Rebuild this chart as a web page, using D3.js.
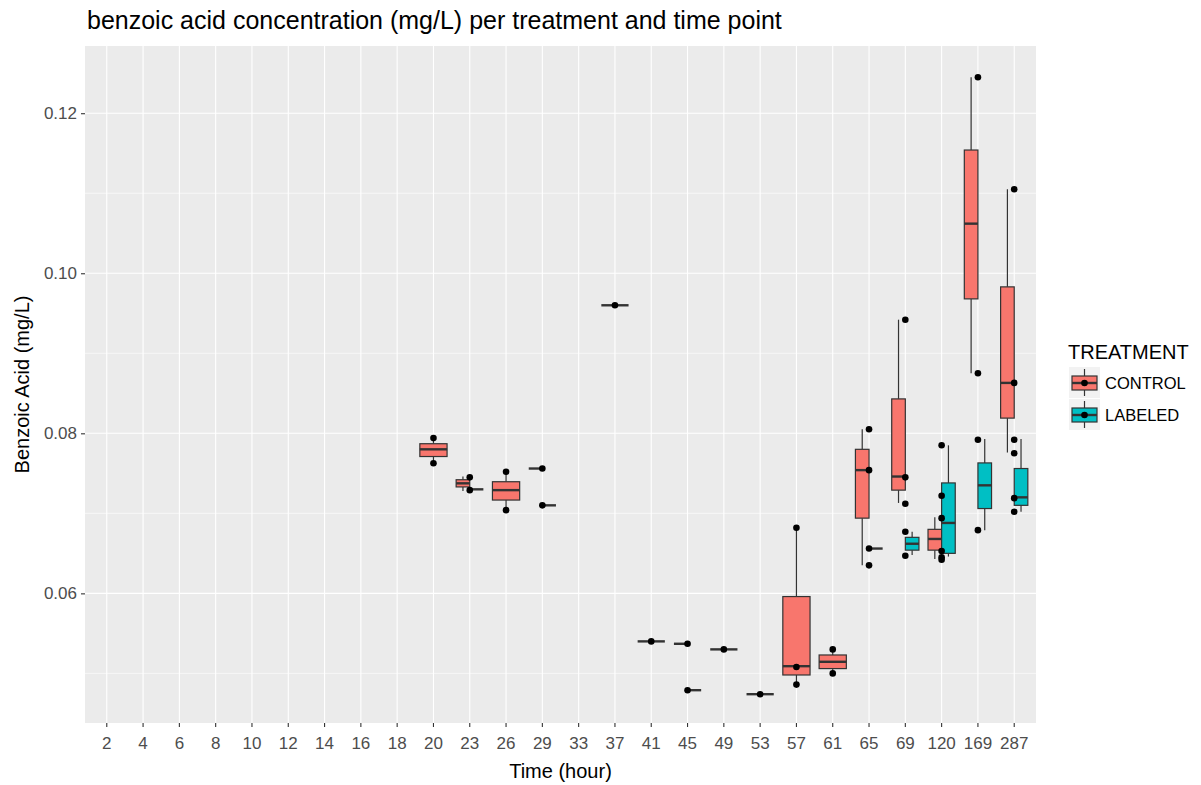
<!DOCTYPE html>
<html>
<head>
<meta charset="utf-8">
<script src="https://cdn.jsdelivr.net/npm/d3@7"></script>
<style>
body { margin: 0; background: #fff; }
text { font-family: "Liberation Sans", Arial, sans-serif; }
</style>
</head>
<body>
<div id="chart"></div>
<script>
// Categories on the x axis (hours)
var times = ['2', '4', '6', '8', '10', '12', '14', '16', '18', '20', '23', '26', '29', '33',
	'37', '41', '45', '49', '53', '57', '61', '65', '69', '120', '169', '287'];
var treatments = ['CONTROL', 'LABELED'];
var treatmentColors = ['#F8766D', '#00BFC4'];
var yTicks = [0.06, 0.08, 0.10, 0.12];
var yMinorTicks = [0.05, 0.07, 0.09, 0.11];
var yDomain = [0.0438, 0.1284];

// Box summaries: time, lower whisker, q1, median, q3, upper whisker
var controlBoxes = [
	['20', 0.07625, 0.0771, 0.0780, 0.0787, 0.0794],
	['23', 0.0728, 0.0733, 0.07375, 0.0742, 0.0746],
	['26', 0.0704, 0.07166, 0.0729, 0.07395, 0.0752],
	['29', 0.0756, 0.0756, 0.0756, 0.0756, 0.0756],
	['37', 0.0960, 0.0960, 0.0960, 0.0960, 0.0960],
	['41', 0.0540, 0.0540, 0.0540, 0.0540, 0.0540],
	['45', 0.0537, 0.0537, 0.0537, 0.0537, 0.0537],
	['49', 0.0530, 0.0530, 0.0530, 0.0530, 0.0530],
	['53', 0.0474, 0.0474, 0.0474, 0.0474, 0.0474],
	['57', 0.0486, 0.0498, 0.0509, 0.0596, 0.0682],
	['61', 0.0500, 0.0506, 0.05145, 0.0523, 0.0530],
	['65', 0.0635, 0.0694, 0.0754, 0.0780, 0.0805],
	['69', 0.0713, 0.0729, 0.0746, 0.0843, 0.0942],
	['120', 0.0643, 0.0654, 0.0668, 0.0680, 0.0695],
	['169', 0.0875, 0.0968, 0.1062, 0.1154, 0.1245],
	['287', 0.0776, 0.0819, 0.0863, 0.0983, 0.1105]
];
var labeledBoxes = [
	['23', 0.0730, 0.0730, 0.0730, 0.0730, 0.0730],
	['29', 0.0710, 0.0710, 0.0710, 0.0710, 0.0710],
	['45', 0.0479, 0.0479, 0.0479, 0.0479, 0.0479],
	['65', 0.0656, 0.0656, 0.0656, 0.0656, 0.0656],
	['69', 0.0648, 0.0654, 0.0662, 0.0670, 0.0677],
	['120', 0.0646, 0.0650, 0.0688, 0.0738, 0.0785],
	['169', 0.0679, 0.0706, 0.0735, 0.0763, 0.0793],
	['287', 0.0702, 0.0710, 0.0720, 0.0756, 0.0793]
];

// Measured points (time, value)
var points = [
	['20', 0.0794], ['20', 0.07625],
	['23', 0.0745], ['23', 0.0729],
	['26', 0.0752], ['26', 0.0704],
	['29', 0.0756], ['29', 0.0710],
	['37', 0.0960],
	['41', 0.0540],
	['45', 0.0537], ['45', 0.0479],
	['49', 0.0530],
	['53', 0.0474],
	['57', 0.0682], ['57', 0.0508], ['57', 0.0486],
	['61', 0.0530], ['61', 0.0500],
	['65', 0.0805], ['65', 0.0754], ['65', 0.0656], ['65', 0.0635],
	['69', 0.0942], ['69', 0.0745], ['69', 0.0712], ['69', 0.0677], ['69', 0.0647],
	['120', 0.0785], ['120', 0.0722], ['120', 0.0694], ['120', 0.0653], ['120', 0.0645], ['120', 0.0642],
	['169', 0.1245], ['169', 0.0875], ['169', 0.0792], ['169', 0.0679],
	['287', 0.1105], ['287', 0.0863], ['287', 0.0792], ['287', 0.0775], ['287', 0.0719], ['287', 0.0702]
];

var total_width = 1201;
var total_height = 785;
var panel = { left: 85, right: 1036, top: 46, bottom: 723 };
var line_color = '#333333';

var svg = d3.select('#chart')
	.append('svg')
	.attr('width', total_width)
	.attr('height', total_height);

var x = d3.scaleBand()
	.domain(times)
	.range([panel.left, panel.right])
	.paddingInner(0)
	.paddingOuter(0.1);
var y = d3.scaleLinear()
	.domain(yDomain)
	.range([panel.bottom, panel.top]);

// Panel background
svg.append('rect')
	.attr('x', panel.left)
	.attr('y', panel.top)
	.attr('width', panel.right - panel.left)
	.attr('height', panel.bottom - panel.top)
	.attr('fill', '#EBEBEB');

// Grid lines
svg.selectAll('.minor')
	.data(yMinorTicks)
	.enter()
	.append('line')
	.attr('x1', panel.left).attr('x2', panel.right)
	.attr('y1', function(d) { return y(d); })
	.attr('y2', function(d) { return y(d); })
	.attr('stroke', '#fff')
	.attr('stroke-width', 0.6);
svg.selectAll('.major')
	.data(yTicks)
	.enter()
	.append('line')
	.attr('x1', panel.left).attr('x2', panel.right)
	.attr('y1', function(d) { return y(d); })
	.attr('y2', function(d) { return y(d); })
	.attr('stroke', '#fff')
	.attr('stroke-width', 1.1);
svg.selectAll('.vgrid')
	.data(times)
	.enter()
	.append('line')
	.attr('x1', function(d) { return x(d) + x.bandwidth() / 2; })
	.attr('x2', function(d) { return x(d) + x.bandwidth() / 2; })
	.attr('y1', panel.top).attr('y2', panel.bottom)
	.attr('stroke', '#fff')
	.attr('stroke-width', 1.1);

// Axes
var xAxis = svg.append('g')
	.attr('transform', 'translate(0,' + panel.bottom + ')')
	.call(d3.axisBottom(x).tickSize(4).tickPadding(10));
var yAxis = svg.append('g')
	.attr('transform', 'translate(' + panel.left + ',0)')
	.call(d3.axisLeft(y).tickValues(yTicks).tickFormat(d3.format('.2f')).tickSize(4).tickPadding(4));
[xAxis, yAxis].forEach(function(g) {
	g.select('.domain').remove();
	g.selectAll('line').attr('stroke', line_color).attr('stroke-width', 1.1);
	g.selectAll('text')
		.attr('fill', '#4D4D4D')
		.attr('font-size', '17px')
		.style('font-family', '"Liberation Sans", Arial, sans-serif');
});

// Build dodged box data
var groups = [];
treatments.forEach(function(t, ti) {
	var rows = ti === 0 ? controlBoxes : labeledBoxes;
	rows.forEach(function(r) {
		groups.push({ time: r[0], treatment: t, color: treatmentColors[ti],
			lo: r[1], q1: r[2], med: r[3], q3: r[4], hi: r[5] });
	});
});
var totalBoxWidth = x.bandwidth() * 0.75;
groups.forEach(function(g) {
	var sameTime = groups.filter(function(o) { return o.time === g.time; });
	var n = sameTime.length;
	var idx = sameTime.indexOf(g);
	g.w = totalBoxWidth / n;
	g.cx = x(g.time) + x.bandwidth() / 2 + (idx - (n - 1) / 2) * g.w;
});

var boxG = svg.selectAll('.box')
	.data(groups)
	.enter()
	.append('g')
	.attr('class', 'box');
boxG.append('line')
	.attr('x1', function(d) { return d.cx; })
	.attr('x2', function(d) { return d.cx; })
	.attr('y1', function(d) { return y(d.hi); })
	.attr('y2', function(d) { return y(d.q3); })
	.attr('stroke', line_color).attr('stroke-width', 1.2);
boxG.append('line')
	.attr('x1', function(d) { return d.cx; })
	.attr('x2', function(d) { return d.cx; })
	.attr('y1', function(d) { return y(d.q1); })
	.attr('y2', function(d) { return y(d.lo); })
	.attr('stroke', line_color).attr('stroke-width', 1.2);
boxG.append('rect')
	.attr('x', function(d) { return d.cx - d.w / 2; })
	.attr('y', function(d) { return y(d.q3); })
	.attr('width', function(d) { return d.w; })
	.attr('height', function(d) { return y(d.q1) - y(d.q3); })
	.attr('fill', function(d) { return d.color; })
	.attr('stroke', line_color).attr('stroke-width', 1.2);
boxG.append('line')
	.attr('x1', function(d) { return d.cx - d.w / 2; })
	.attr('x2', function(d) { return d.cx + d.w / 2; })
	.attr('y1', function(d) { return y(d.med); })
	.attr('y2', function(d) { return y(d.med); })
	.attr('stroke', line_color).attr('stroke-width', 2.4);

// Points
svg.selectAll('.pt')
	.data(points)
	.enter()
	.append('circle')
	.attr('cx', function(d) { return x(d[0]) + x.bandwidth() / 2; })
	.attr('cy', function(d) { return y(d[1]); })
	.attr('r', 3.3)
	.attr('fill', '#000');

// Titles
svg.append('text')
	.attr('x', 87).attr('y', 29)
	.attr('font-size', '25px')
	.attr('fill', '#000')
	.text('benzoic acid concentration (mg/L) per treatment and time point');
svg.append('text')
	.attr('x', (panel.left + panel.right) / 2).attr('y', 778)
	.attr('text-anchor', 'middle')
	.attr('font-size', '20px')
	.text('Time (hour)');
svg.append('text')
	.attr('transform', 'translate(29,' + ((panel.top + panel.bottom) / 2) + ') rotate(-90)')
	.attr('text-anchor', 'middle')
	.attr('font-size', '20px')
	.text('Benzoic Acid (mg/L)');

// Legend
var legend = svg.append('g').attr('transform', 'translate(1068,0)');
legend.append('text')
	.attr('x', 0).attr('y', 359)
	.attr('font-size', '20px')
	.text('TREATMENT');
var keys = legend.selectAll('.key')
	.data(treatments)
	.enter()
	.append('g')
	.attr('transform', function(d, i) { return 'translate(1,' + (367 + i * 32) + ')'; });
keys.append('rect')
	.attr('width', 31).attr('height', 31)
	.attr('fill', '#F2F2F2');
keys.append('line')
	.attr('x1', 15.5).attr('x2', 15.5).attr('y1', 2).attr('y2', 29)
	.attr('stroke', line_color).attr('stroke-width', 1.2);
keys.append('rect')
	.attr('x', 3).attr('y', 9).attr('width', 25).attr('height', 14)
	.attr('fill', function(d, i) { return treatmentColors[i]; })
	.attr('stroke', line_color).attr('stroke-width', 1.2);
keys.append('line')
	.attr('x1', 3).attr('x2', 28).attr('y1', 16).attr('y2', 16)
	.attr('stroke', line_color).attr('stroke-width', 2.4);
keys.append('circle')
	.attr('cx', 15.5).attr('cy', 16).attr('r', 3.3).attr('fill', '#000');
keys.append('text')
	.attr('x', 36).attr('y', 16)
	.attr('dy', '0.35em')
	.attr('font-size', '16.5px')
	.text(function(d) { return d; });
</script>
</body>
</html>
